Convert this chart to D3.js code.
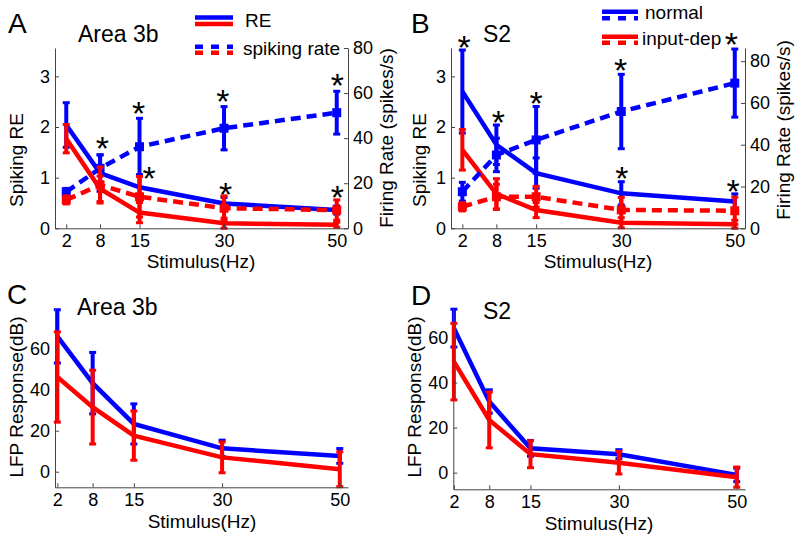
<!DOCTYPE html>
<html>
<head>
<meta charset="utf-8">
<script src="https://cdn.jsdelivr.net/npm/d3@7"></script>
<style>
  body { margin: 0; background: #fff; }
  svg { font-family: "Liberation Sans", Arial, sans-serif; }
</style>
</head>
<body>
<svg id="fig" width="800" height="539"></svg>
<script>
// stimulus frequencies (Hz)
var freqs = [2, 8, 15, 30, 50];

// A: Area 3b spiking
var a_reNormal = [2.04, 1.09, 0.81, 0.49, 0.36];
var a_reNormalErr = [0.44, 0.36, 0.25, 0.12, 0.08];
var a_reDep = [1.77, 0.78, 0.31, 0.10, 0.07];
var a_reDepErr = [0.28, 0.25, 0.2, 0.1, 0.05];
var a_rateNormal = [16.2, 26.6, 36.2, 44.4, 51.3];
var a_rateNormalErr = [1.5, 6, 12.6, 9.6, 9.5];
var a_rateDep = [12.6, 19.2, 14.0, 8.9, 8.1];
var a_rateDepErr = [1.8, 8, 9, 5.5, 4.5];
var a_starX = [8.4, 14.85, 16.7, 29.8, 30.3, 50.1, 50.1];
var a_starY = [1.66, 2.35, 1.07, 2.6, 0.76, 2.9, 0.69];

// B: S2 spiking
var b_reNormal = [2.70, 1.65, 1.09, 0.69, 0.53];
var b_reNormalErr = [0.82, 0.39, 0.3, 0.23, 0.15];
var b_reDep = [1.55, 0.68, 0.36, 0.11, 0.08];
var b_reDepErr = [0.4, 0.3, 0.15, 0.1, 0.08];
var b_rateNormal = [17.5, 35.1, 42.3, 55.9, 69.5];
var b_rateNormalErr = [4.5, 8, 16, 17.8, 16.3];
var b_rateDep = [10.3, 15.1, 15.1, 8.8, 8.4];
var b_rateDepErr = [2, 6, 5, 6, 6.5];
var b_starX = [2.29, 8.34, 15.0, 29.9, 30.1, 49.4, 49.7];
var b_starY = [3.66, 2.17, 2.55, 3.21, 1.08, 3.72, 0.82];

// C: Area 3b LFP
var c_lfpNormal = [66.0, 43.2, 23.3, 11.4, 7.7];
var c_lfpNormalErr = [13, 15, 9.8, 4, 3.6];
var c_lfpDep = [46.2, 31.5, 17.6, 7.0, 1.2];
var c_lfpDepErr = [22, 18, 12, 7.5, 8.5];

// D: S2 LFP
var d_lfpNormal = [64.2, 31.6, 10.8, 8.2, -1.0];
var d_lfpNormalErr = [8.4, 5.2, 3.5, 2, 3];
var d_lfpDep = [49.3, 23.4, 8.2, 4.4, -2.0];
var d_lfpDepErr = [17, 12.4, 6, 5, 4.5];

var reTicks = [0, 1, 2, 3];
var rateTicks = [0, 20, 40, 60, 80];
var lfpTicks = [0, 20, 40, 60];

var BLUE = "#0000ff", RED = "#ff0000", AXIS = "#444";
var svg = d3.select("#fig");

function styleAxis(g) {
  g.attr("font-size", 18).attr("font-family", "Liberation Sans, Arial, sans-serif");
  g.selectAll("path, line").attr("stroke", AXIS);
  g.selectAll("text").attr("fill", "#000");
}

function drawSeries(g, x, y, vals, errs, color, dashed, markers) {
  var pts = freqs.map((f, i) => [f, vals[i], errs[i]]);
  // error bars
  g.selectAll(null).data(pts).join("line")
    .attr("x1", d => x(d[0])).attr("x2", d => x(d[0]))
    .attr("y1", d => y(d[1] - d[2])).attr("y2", d => y(d[1] + d[2]))
    .attr("stroke", color).attr("stroke-width", 4);
  [-1, 1].forEach(s => {
    g.selectAll(null).data(pts).join("line")
      .attr("x1", d => x(d[0]) - 3.5).attr("x2", d => x(d[0]) + 3.5)
      .attr("y1", d => y(d[1] + s * d[2])).attr("y2", d => y(d[1] + s * d[2]))
      .attr("stroke", color).attr("stroke-width", 3);
  });
  g.append("path")
    .attr("d", d3.line().x(d => x(d[0])).y(d => y(d[1]))(pts))
    .attr("fill", "none").attr("stroke", color).attr("stroke-width", 4.5)
    .attr("stroke-dasharray", dashed ? "10,6" : null);
  if (markers) {
    g.selectAll(null).data(pts).join("rect")
      .attr("x", d => x(d[0]) - 4.5).attr("y", d => y(d[1]) - 4.5)
      .attr("width", 9).attr("height", 9).attr("fill", color);
  }
}

function drawStars(g, x, y, xs, ys) {
  g.selectAll(null).data(xs.map((v, i) => [v, ys[i]])).join("text")
    .attr("x", d => x(d[0])).attr("y", d => y(d[1]))
    .attr("dy", "0.47em").attr("text-anchor", "middle")
    .attr("font-size", 34).text("*");
}

function bottomAxis(x, yPix) {
  svg.append("g").attr("transform", "translate(0," + yPix + ")")
    .call(d3.axisBottom(x).tickValues(freqs).tickSizeInner(-4).tickSizeOuter(0).tickPadding(6))
    .call(styleAxis);
}
function leftAxis(y, xPix, ticks) {
  svg.append("g").attr("transform", "translate(" + xPix + ",0)")
    .call(d3.axisLeft(y).tickValues(ticks).tickFormat(d3.format("d"))
      .tickSizeInner(-4).tickSizeOuter(0).tickPadding(5))
    .call(styleAxis);
}
function rightAxis(y, xPix, ticks) {
  svg.append("g").attr("transform", "translate(" + xPix + ",0)")
    .call(d3.axisRight(y).tickValues(ticks).tickFormat(d3.format("d"))
      .tickSizeInner(-4).tickSizeOuter(0).tickPadding(5))
    .call(styleAxis);
}
function label(txt, x, y, size, rot, anchor) {
  var t = svg.append("text").attr("font-size", size).attr("text-anchor", anchor || "middle").text(txt);
  if (rot) t.attr("transform", "translate(" + x + "," + y + ") rotate(-90)");
  else t.attr("x", x).attr("y", y);
  return t;
}

// ---------- Panel A ----------
var xA = d3.scaleLinear().domain([0, 52]).range([55, 348]);
var yA = d3.scaleLinear().domain([0, 3.56]).range([228.3, 48]);
var yAr = d3.scaleLinear().domain([0, 80]).range([228.3, 48]);
var gA = svg.append("g");
drawSeries(gA, xA, yA, a_reNormal, a_reNormalErr, BLUE, false, false);
drawSeries(gA, xA, yA, a_reDep, a_reDepErr, RED, false, false);
drawSeries(gA, xA, yAr, a_rateNormal, a_rateNormalErr, BLUE, true, true);
drawSeries(gA, xA, yAr, a_rateDep, a_rateDepErr, RED, true, true);
drawStars(gA, xA, yA, a_starX, a_starY);
leftAxis(yA, 55, reTicks);
rightAxis(yAr, 348, rateTicks);
bottomAxis(xA, 228.3);

// ---------- Panel B ----------
var xB = d3.scaleLinear().domain([0, 51.8]).range([451, 745]);
var yB = d3.scaleLinear().domain([0, 3.56]).range([228.3, 48]);
var yBr = d3.scaleLinear().domain([0, 86.3]).range([228.3, 48]);
var gB = svg.append("g");
drawSeries(gB, xB, yB, b_reNormal, b_reNormalErr, BLUE, false, false);
drawSeries(gB, xB, yB, b_reDep, b_reDepErr, RED, false, false);
drawSeries(gB, xB, yBr, b_rateNormal, b_rateNormalErr, BLUE, true, true);
drawSeries(gB, xB, yBr, b_rateDep, b_rateDepErr, RED, true, true);
drawStars(gB, xB, yB, b_starX, b_starY);
leftAxis(yB, 451, reTicks);
rightAxis(yBr, 745, rateTicks);
bottomAxis(xB, 228.3);

// ---------- Panel C ----------
var xC = d3.scaleLinear().domain([1.6, 51.4]).range([55, 348]);
var yC = d3.scaleLinear().domain([-7.6, 80]).range([487.3, 307.7]);
var gC = svg.append("g");
drawSeries(gC, xC, yC, c_lfpNormal, c_lfpNormalErr, BLUE, false, false);
drawSeries(gC, xC, yC, c_lfpDep, c_lfpDepErr, RED, false, false);
leftAxis(yC, 55, lfpTicks);
bottomAxis(xC, 487.3);

// ---------- Panel D ----------
var xD = d3.scaleLinear().domain([1.9, 51.4]).range([453.3, 745]);
var yD = d3.scaleLinear().domain([-7.4, 73]).range([489.3, 308.3]);
var gD = svg.append("g");
drawSeries(gD, xD, yD, d_lfpNormal, d_lfpNormalErr, BLUE, false, false);
drawSeries(gD, xD, yD, d_lfpDep, d_lfpDepErr, RED, false, false);
leftAxis(yD, 453.3, lfpTicks);
bottomAxis(xD, 489.3);

// ---------- labels ----------
label("A", 8, 33, 28, false, "start");
label("B", 411, 33, 28, false, "start");
label("C", 7, 304, 28, false, "start");
label("D", 411, 305, 28, false, "start");
label("Area 3b", 78, 42, 23, false, "start");
label("S2", 483, 42, 23, false, "start");
label("Area 3b", 77, 315, 23, false, "start");
label("S2", 483, 319, 23, false, "start");

label("Stimulus(Hz)", 201, 268, 19);
label("Stimulus(Hz)", 598, 268, 19);
label("Stimulus(Hz)", 202, 528, 19);
label("Stimulus(Hz)", 599, 530, 19);
label("Spiking RE", 23, 160, 19, true);
label("Spiking RE", 426, 160, 19, true);
label("Firing Rate (spikes/s)", 393, 138, 19, true);
label("Firing Rate (spikes/s)", 790, 130, 19, true);
label("LFP Response(dB)", 23, 397, 19, true);
label("LFP Response(dB)", 421, 397, 19, true);

// ---------- legends ----------
function legLine(x1, x2, y, color, dashed) {
  svg.append("line").attr("x1", x1).attr("x2", x2).attr("y1", y).attr("y2", y)
    .attr("stroke", color).attr("stroke-width", 4.5)
    .attr("stroke-dasharray", dashed ? "8,8" : null);
}
legLine(195, 233, 17.5, BLUE, false);
legLine(195, 233, 24, RED, false);
legLine(195, 233, 46.7, BLUE, true);
legLine(195, 233, 52.7, RED, true);
label("RE", 245, 27, 19, false, "start");
label("spiking rate", 243, 55, 19, false, "start");

legLine(602, 638, 11.7, BLUE, false);
legLine(602, 638, 18.3, BLUE, true);
legLine(602, 638, 36.7, RED, false);
legLine(602, 638, 42.7, RED, true);
label("normal", 645, 19, 19, false, "start");
label("input-dep", 642, 45, 19, false, "start");
</script>
</body>
</html>
